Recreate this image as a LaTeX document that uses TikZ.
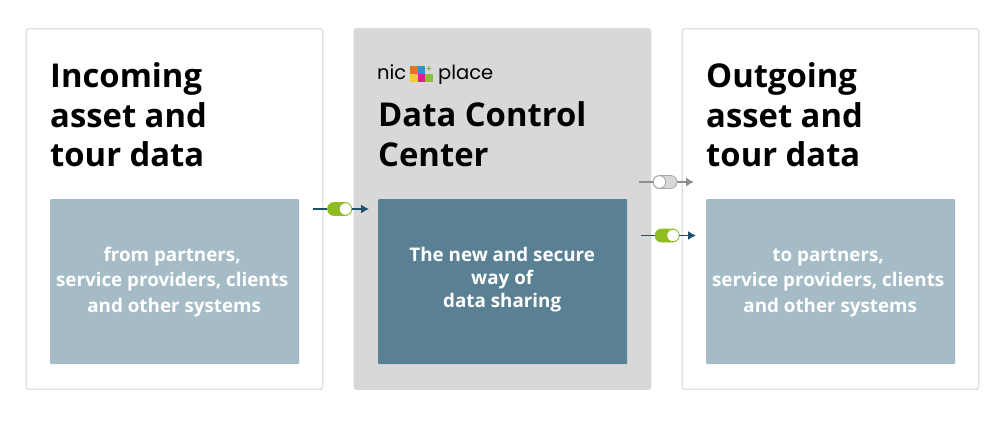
\documentclass[tikz,border=0pt]{standalone}
\usepackage{fontspec}
\setmainfont{Open Sans}
\newfontfamily\logofont{Poppins}
\definecolor{panelgrey}{HTML}{D8D8D8}
\definecolor{panelline}{HTML}{E0E0E0}
\definecolor{lightblue}{HTML}{A5BCC7}
\definecolor{darkblue}{HTML}{5A8094}
\definecolor{navy}{HTML}{1F4E6B}
\definecolor{togglegreen}{HTML}{8FBC23}
\definecolor{greyline}{HTML}{8E8E8E}
\definecolor{logoO}{HTML}{E8731E}
\definecolor{logoB}{HTML}{1E9AD6}
\definecolor{logoY}{HTML}{F5CE2E}
\definecolor{logoM}{HTML}{DD1F82}
\definecolor{logoG}{HTML}{8FBF3A}
\usetikzlibrary{arrows.meta}
\newcommand{\nudged}[3]{\hspace*{#1}{\fontsize{18.8}{#2}\selectfont\bfseries\begin{tabular}{@{}c@{}}#3\end{tabular}}}
\tikzset{
  panel/.style={anchor=north west,minimum width=296.5pt,minimum height=360.5pt,rounded corners=2.5pt,draw=panelline,line width=1.4pt,fill=white,inner sep=0pt},
  greypanel/.style={panel,fill=panelgrey,draw=panelgrey},
  infobox/.style={anchor=north west,minimum width=249pt,minimum height=165pt,rounded corners=1pt,fill=lightblue,text=white,inner sep=0pt},
  darkbox/.style={infobox,fill=darkblue},
  heading/.style={anchor=north west,inner sep=0pt,font=\fontsize{32.8}{39.4}\selectfont\bfseries,align=left,text=black},
  togglepill/.style={minimum width=24pt,minimum height=13pt,inner sep=0pt,rounded corners=6.5pt,line width=0.7pt},
  toggleon/.style={togglepill,fill=togglegreen,draw=togglegreen},
  toggleoff/.style={togglepill,fill=panelgrey,draw=greyline!80},
  knob/.style={circle,minimum size=12.5pt,inner sep=0pt,fill=white,line width=0.8pt},
  link/.style={line width=1.3pt,color=navy},
  arrowlink/.style={link,-{Latex[length=8pt,width=9pt]}},
  greylink/.style={line width=1.3pt,color=greyline},
  greyarrow/.style={greylink,-{Latex[length=8pt,width=9pt]}},
  logosq/.style={minimum size=7.7pt,inner sep=0pt},
}
\begin{document}
\begin{tikzpicture}[x=1pt,y=-1pt]
\useasboundingbox (0,0) rectangle (1000,421);
\fill[white] (0,0) rectangle (1000,421);
\node[panel] (left) at (25.5,28) {};
\node[greypanel] (mid) at (353.5,28) {};
\node[panel] (right) at (681.5,28) {};
\node[heading] (h1) at (50,62.5) {Incoming\\asset and\\tour data};
\node[heading] (h2) at (378,101.5) {Data Control\\Center};
\node[heading] (h3) at (706,62.5) {Outgoing\\asset and\\tour data};
\node[infobox] (b1) at (50,199) {\nudged{-5pt}{25.5}{from partners,\\service providers, clients\\\hspace*{4pt}and other systems}};
\node[darkbox] (b2) at (378,199) {\nudged{-1pt}{22.6}{The new and secure\\way of\\data sharing}\rule[-33pt]{0pt}{1pt}};
\node[infobox] (b3) at (706,199) {\nudged{-5pt}{25.5}{to partners,\\service providers, clients\\\hspace*{4pt}and other systems}};
% logo
\node[anchor=base west,inner sep=0pt,font=\logofont\fontsize{19.5}{20}\selectfont] (lognic) at (377,79.5) {nic};
\node[anchor=base west,inner sep=0pt,font=\logofont\fontsize{19.5}{20}\selectfont] (logplace) at (438,79.5) {place};
\node[logosq,fill=logoO] (s1) at (414,70) {};
\node[logosq,fill=logoB] (s2) at (421.5,70) {};
\node[logosq,fill=logoY] (s4) at (414,78) {};
\node[logosq,fill=logoM] (s5) at (421.5,78) {};
\node[logosq,fill=logoG] (s6) at (429,78) {};
\node[inner sep=0pt,text=logoG!70!gray,font=\fontsize{10}{10}\selectfont\bfseries] (s3) at (429,69.5) {+};
% connector 1
\coordinate (a1) at (313,209);
\coordinate (a2) at (369,209);
\node[toggleon] (t1) at (339.5,209) {};
\node[knob,draw=togglegreen] (k1) at (345.5,209) {};
\draw[link] (a1) -- (t1);
\draw[arrowlink] (t1) -- (a2);
% connector 2
\coordinate (c1) at (639,182);
\coordinate (c2) at (694,182);
\node[toggleoff] (t2) at (665,182) {};
\node[knob,draw=greyline!80] (k2) at (659.5,182) {};
\draw[greylink] (c1) -- (t2);
\draw[greyarrow] (t2) -- (c2);
% connector 3
\coordinate (d1) at (641,235.5);
\coordinate (d2) at (696,235.5);
\node[toggleon] (t3) at (667,235.5) {};
\node[knob,draw=togglegreen] (k3) at (673,235.5) {};
\draw[link] (d1) -- (t3);
\draw[arrowlink] (t3) -- (d2);
\end{tikzpicture}
\end{document}
